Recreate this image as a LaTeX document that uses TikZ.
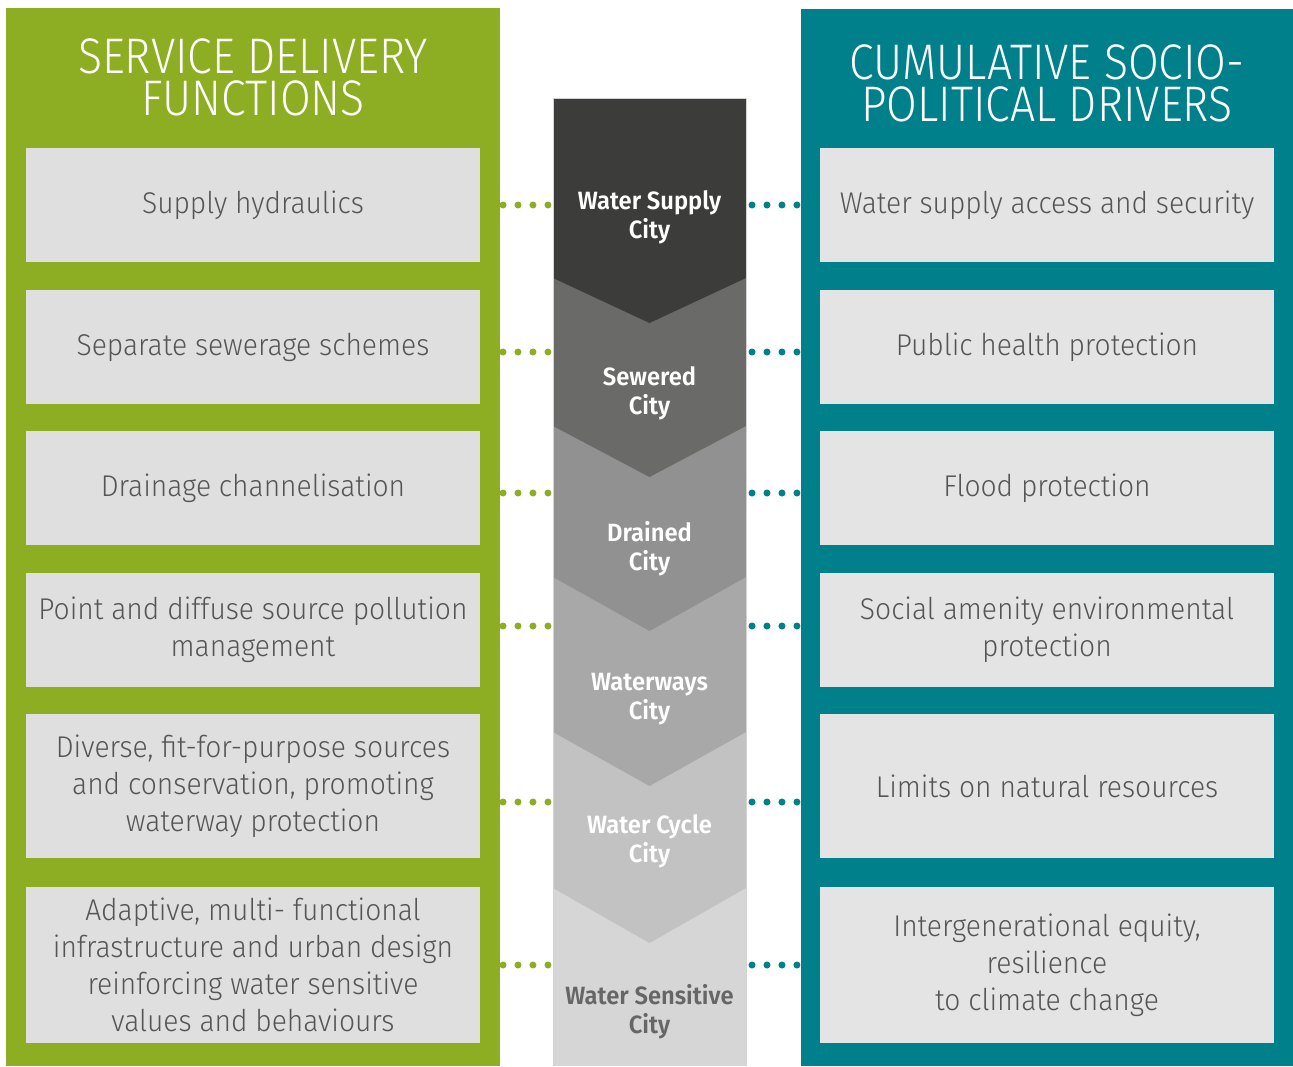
\documentclass[tikz,border=0pt]{standalone}
\usepackage{fontspec}
\setmainfont{Fira Sans Light}
\newfontfamily\titlefont{Fira Sans Light}[FakeStretch=0.89]
\newfontfamily\bodyfont{Fira Sans Light}[FakeStretch=0.94]
\newfontfamily\cityfont{Fira Sans SemiBold}[FakeStretch=0.95]
\usetikzlibrary{positioning, calc}
\definecolor{wsgreen}{RGB}{141,173,35}
\definecolor{wsteal}{RGB}{0,128,138}
\definecolor{wsbox}{RGB}{223,223,223}
\definecolor{wsrbox}{RGB}{228,228,228}
\definecolor{wstext}{RGB}{85,85,85}
\definecolor{stageA}{RGB}{60,60,59}
\definecolor{stageB}{RGB}{106,106,105}
\definecolor{stageC}{RGB}{145,145,145}
\definecolor{stageD}{RGB}{168,168,168}
\definecolor{stageE}{RGB}{194,194,194}
\definecolor{stageF}{RGB}{214,214,214}

\begin{document}
\begin{tikzpicture}[x=0.5pt, y=-0.5pt,
  title/.style={text=white, align=center, inner sep=0pt, font=\titlefont\fontsize{25}{21}\selectfont},
  fnbox/.style={fill=wsbox, text=wstext, align=center, inner sep=0pt, minimum width=227pt, font=\bodyfont\fontsize{15}{18.5}\selectfont},
  drvbox/.style={fnbox, fill=wsrbox},
  city/.style={text=white, align=center, inner sep=0pt, font=\cityfont\fontsize{12.5}{14.5}\selectfont},
  greendots/.style={draw=wsgreen, line width=3.5pt, line cap=round, dash pattern=on 0pt off 7.49pt},
  tealdots/.style={greendots, draw=wsteal}]
\useasboundingbox (0,0) rectangle (1293,1066);

% Side panels
\fill[wsgreen] (6,8) rectangle (500,1066);
\fill[wsteal] (801,9) rectangle (1293,1066);
\node[title] (ltitle) at (253,77) {SERVICE DELIVERY\\FUNCTIONS};
\node[title] (rtitle) at (1047,83) {CUMULATIVE SOCIO-\\POLITICAL DRIVERS};

% Service delivery functions
\node[fnbox, minimum height=57pt] (f1) at (253,205) {Supply hydraulics};
\node[fnbox, minimum height=57pt] (f2) at (253,347) {Separate sewerage schemes};
\node[fnbox, minimum height=57pt] (f3) at (253,488) {Drainage channelisation};
\node[fnbox, minimum height=57pt] (f4) at (253,630) {Point and diffuse source pollution\\management};
\node[fnbox, minimum height=72pt] (f5) at (253,786) {Diverse, fit-for-purpose sources\\and conservation, promoting\\waterway protection};
\node[fnbox, minimum height=78pt] (f6) at (253,965) {Adaptive, multi- functional\\infrastructure and urban design\\reinforcing water sensitive\\values and behaviours};

% Socio-political drivers
\node[drvbox, minimum height=57pt] (d1) at (1047,205) {Water supply access and security};
\node[drvbox, minimum height=57pt] (d2) at (1047,347) {Public health protection};
\node[drvbox, minimum height=57pt] (d3) at (1047,488) {Flood protection};
\node[drvbox, minimum height=57pt] (d4) at (1047,630) {Social amenity environmental\\protection};
\node[drvbox, minimum height=72pt] (d5) at (1047,786) {Limits on natural resources};
\node[drvbox, minimum height=78pt] (d6) at (1047,965) {Intergenerational equity,\\resilience\\to climate change};

% City stages, lightest first
\fill[stageF] (553,98) rectangle (746,1066);
\fill[stageE] (553,98) -- (746,98) -- (746,888) -- (649.5,943) -- (553,888) -- cycle;
\fill[stageD] (553,98) -- (746,98) -- (746,732) -- (649.5,786) -- (553,732) -- cycle;
\fill[stageC] (553,98) -- (746,98) -- (746,577) -- (649.5,631) -- (553,577) -- cycle;
\fill[stageB] (553,98) -- (746,98) -- (746,426) -- (649.5,477) -- (553,426) -- cycle;
\fill[stageA] (553,98) -- (746,98) -- (746,278) -- (649.5,323) -- (553,278) -- cycle;
\draw[gray!35, line width=0.5pt] (553,1066) -- (553,98) -- (746,98) -- (746,1066);

\node[city] (c1) at (649.5,217) {Water Supply\\City};
\node[city] (c2) at (649.5,393) {Sewered\\City};
\node[city] (c3) at (649.5,549) {Drained\\City};
\node[city] (c4) at (649.5,699) {Waterways\\City};
\node[city] (c5) at (649.5,841) {Water Cycle\\City};
\node[city, text=black!60] (c6) at (649.5,1012) {Water Sensitive\\City};

% Dotted links
\foreach \y [count=\i] in {205,352,493,626,802,965} {
  \coordinate (lp\i) at (503,\y);
  \coordinate (cl\i) at (548,\y);
  \coordinate (cr\i) at (752,\y);
  \coordinate (rp\i) at (797,\y);
  \draw[greendots] (lp\i) -- (cl\i);
  \draw[tealdots] (cr\i) -- (rp\i);
}
\end{tikzpicture}
\end{document}
